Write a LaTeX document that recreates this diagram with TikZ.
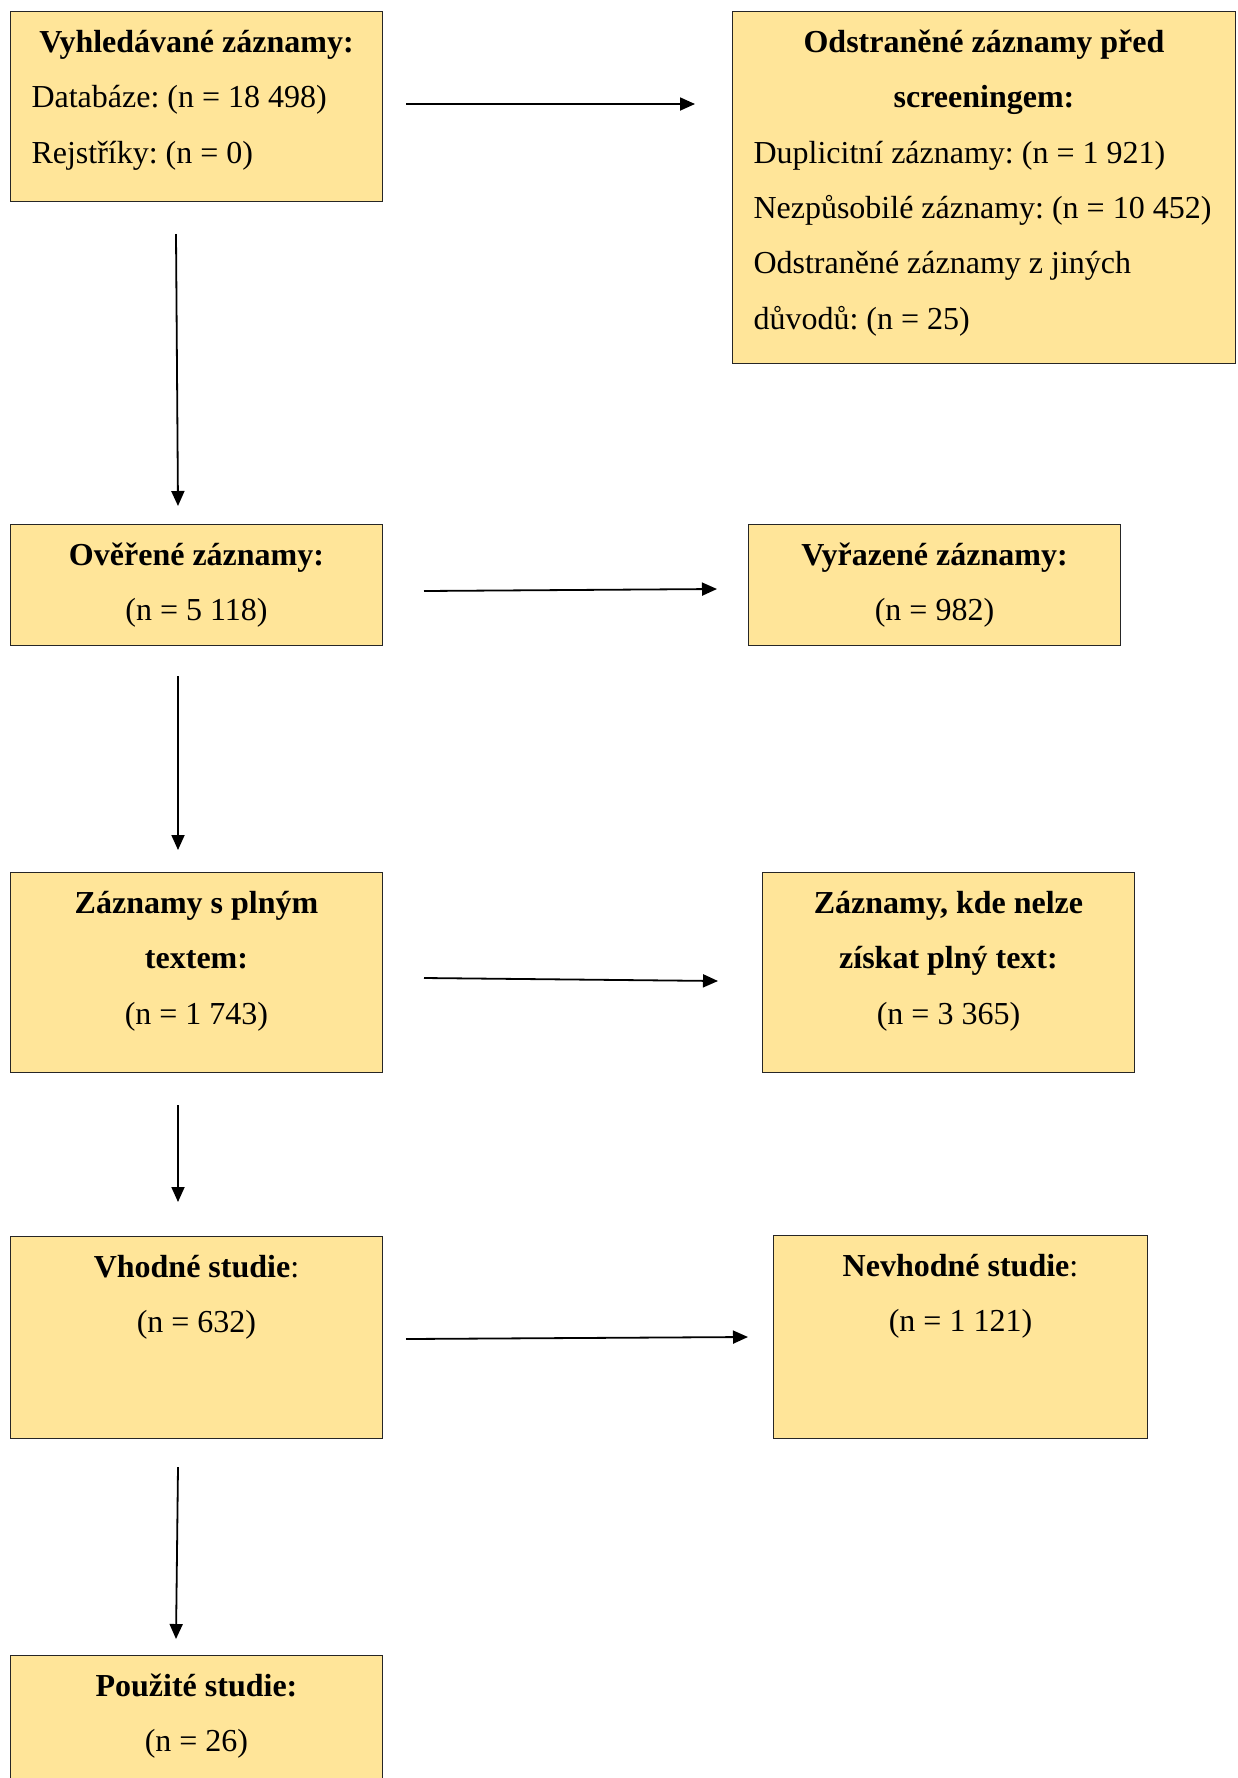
\documentclass[tikz,border=0pt]{standalone}
\usepackage{fontspec}
\setmainfont{Liberation Serif}
\usetikzlibrary{arrows.meta,positioning}
\definecolor{boxfill}{HTML}{FFE599}
\newcommand\boxfont{\fontsize{32}{55.4}\selectfont\frenchspacing}
\newcommand\boxsp{\spaceskip=8pt\xspaceskip=8pt\relax}

\begin{document}
\begin{tikzpicture}[x=1pt, y=-1pt,
    box/.style={draw=black!85, line width=1pt, fill=boxfill, anchor=north west,
      inner xsep=21pt, inner ysep=0pt, text height=40.7pt, font=\boxfont,
      execute at begin node=\boxsp},
    arr/.style={line width=1.8pt, -{Triangle[length=15pt,width=13pt]}}]
    \useasboundingbox (0,0) rectangle (1238,1778);
    \node[box, text width=330pt, text depth=149.3pt, align=left] (hled) at (10,11)
        {{\centering\textbf{Vyhledávané záznamy:}\par}\mbox{Databáze: (n = 18 498)}\\\mbox{Rejstříky: (n = 0)}};
    \node[box, text width=461pt, text depth=311.3pt, align=left] (odstr) at (732,11)
        {{\centering\textbf{Odstraněné záznamy před}\\\textbf{screeningem:}\par}\mbox{Duplicitní záznamy: (n = 1 921)}\\\mbox{Nezpůsobilé záznamy: (n = 10 452)}\\\mbox{Odstraněné záznamy z jiných}\\\mbox{důvodů: (n = 25)}};
    \node[box, text width=330pt, text depth=80.3pt, align=center] (over) at (10,524)
        {\textbf{Ověřené záznamy:}\\(n = 5 118)};
    \node[box, text width=330pt, text depth=80.3pt, align=center] (vyraz) at (748,524)
        {\textbf{Vyřazené záznamy:}\\(n = 982)};
    \node[box, text width=330pt, text depth=159.3pt, align=center] (plny) at (10,872)
        {\textbf{Záznamy s plným}\\\textbf{textem:}\\(n = 1 743)};
    \node[box, text width=330pt, text depth=159.3pt, align=center] (nelze) at (762,872)
        {\textbf{Záznamy, kde nelze}\\\textbf{získat plný text:}\\(n = 3 365)};
    \node[box, text width=330pt, text depth=161.3pt, align=center] (vhodne) at (10,1236)
        {\textbf{Vhodné studie}:\\(n = 632)};
    \node[box, text width=332pt, text depth=162.3pt, align=center] (nevhodne) at (773,1235)
        {\textbf{Nevhodné studie}:\\(n = 1 121)};
    \node[box, text width=330pt, text depth=160pt, align=center] (pouzite) at (10,1655)
        {\textbf{Použité studie:}\\(n = 26)};

    \coordinate (a1s) at (406,104);  \coordinate (a1e) at (695,104);
    \coordinate (a2s) at (176,234);  \coordinate (a2e) at (178,506);
    \coordinate (a3s) at (424,591);  \coordinate (a3e) at (717,589);
    \coordinate (a4s) at (178,676);  \coordinate (a4e) at (178,850);
    \coordinate (a5s) at (424,978);  \coordinate (a5e) at (718,981);
    \coordinate (a6s) at (178,1105); \coordinate (a6e) at (178,1202);
    \coordinate (a7s) at (406,1339); \coordinate (a7e) at (748,1337);
    \coordinate (a8s) at (178,1467); \coordinate (a8e) at (176,1639);
    \foreach \i in {1,...,8}
        \draw[arr] (a\i s) -- (a\i e);
\end{tikzpicture}
\end{document}
